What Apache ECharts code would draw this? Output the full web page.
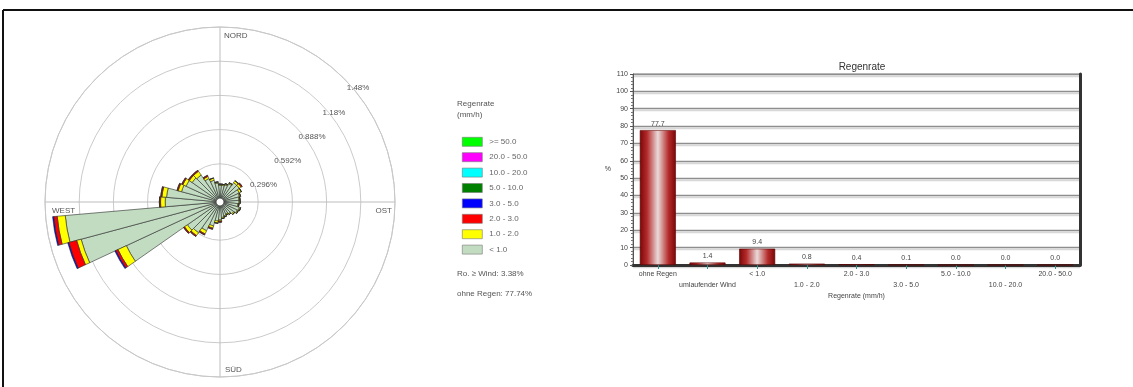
<!DOCTYPE html>
<html>
<head>
<meta charset="utf-8">
<script src="https://cdn.jsdelivr.net/npm/echarts@6/dist/echarts.min.js"></script>
<style>
  html, body { margin: 0; padding: 0; background: #fff; }
  #c { width: 1133px; height: 387px; }
</style>
</head>
<body>
<div id="c"></div>
<script>
// Wind direction sectors (degrees, clockwise from north), 10° each
const sectors = [0, 10, 20, 30, 40, 50, 60, 70, 80, 90, 100, 110, 120, 130, 140, 150, 160, 170,
                 180, 190, 200, 210, 220, 230, 240, 250, 260, 270, 280, 290, 300, 310, 320, 330, 340, 350];

// Frequency (%) per sector and rain-rate class
const lt1 = [0.11, 0.11, 0.12, 0.14, 0.17, 0.17, 0.15, 0.14, 0.13,
             0.13, 0.12, 0.14, 0.13, 0.11, 0.09, 0.08, 0.09, 0.10,
             0.12, 0.13, 0.18, 0.24, 0.29, 0.31, 0.86, 1.21, 1.31,
             0.44, 0.43, 0.31, 0.29, 0.26, 0.25, 0.19, 0.16, 0.13];
const c12 = [0.01, 0.01, 0.01, 0.01, 0.02, 0.02, 0.02, 0.01, 0.01,
             0.01, 0.01, 0.01, 0.01, 0.01, 0.01, 0.01, 0.01, 0.01,
             0.01, 0.02, 0.02, 0.03, 0.03, 0.03, 0.08, 0.04, 0.07,
             0.04, 0.04, 0.03, 0.03, 0.03, 0.04, 0.02, 0.02, 0.01];
const c23 = [0, 0, 0, 0, 0, 0.01, 0, 0, 0,
             0, 0, 0, 0, 0, 0, 0, 0, 0,
             0.01, 0, 0.01, 0.01, 0.01, 0.01, 0.02, 0.07, 0.03,
             0.01, 0.01, 0.01, 0.01, 0.01, 0.01, 0.01, 0, 0];
const c35 = [0, 0, 0, 0, 0, 0, 0, 0, 0,
             0, 0, 0, 0, 0, 0, 0, 0, 0,
             0, 0, 0, 0, 0, 0, 0.01, 0.01, 0.01,
             0, 0, 0, 0, 0, 0, 0, 0, 0];
const c510 = [];
const c1020 = [];
const c2050 = [];
const ge50 = [];

const rateClasses = ['>= 50.0', '20.0 - 50.0', '10.0 - 20.0', '5.0 - 10.0', '3.0 - 5.0', '2.0 - 3.0', '1.0 - 2.0', '< 1.0'];
const classColors = ['#00ff00', '#ff00ff', '#00ffff', '#008000', '#0000ff', '#ff0000', '#ffff00', '#c2dcc2'];
const classData = [ge50, c2050, c1020, c510, c35, c23, c12, lt1];

const ringValues = [0.296, 0.592, 0.888, 1.184, 1.48];
const ringLabels = ['0.296%', '0.592%', '0.888%', '1.18%', '1.48%'];
const compassLabels = ['NORD', 'OST', 'SÜD', 'WEST'];

// Rain-rate distribution
const barCats = ['ohne Regen', 'umlaufender Wind', '< 1.0', '1.0 - 2.0', '2.0 - 3.0', '3.0 - 5.0', '5.0 - 10.0', '10.0 - 20.0', '20.0 - 50.0'];
const barValues = [77.7, 1.4, 9.4, 0.8, 0.4, 0.1, 0.0, 0.0, 0.0];

const legendTitle = ['Regenrate', '(mm/h)'];
const summaryLines = ['Ro. \u2265 Wind: 3.38%', 'ohne Regen: 77.74%'];

const FONT = 'Liberation Sans, Arial, sans-serif';
const chart = echarts.init(document.getElementById('c'), null, { renderer: 'canvas' });

const CENTER = [220, 202];
const RADIUS = [4, 175];

// stacked rose: innermost class first
const roseSeries = [];
for (let i = rateClasses.length - 1; i >= 0; i--) {
  roseSeries.push({
    name: rateClasses[i],
    type: 'bar',
    coordinateSystem: 'polar',
    polarIndex: 0,
    stack: 'rose',
    barCategoryGap: '0%',
    data: classData[i],
    itemStyle: { color: classColors[i], borderColor: '#2a2a2a', borderWidth: 0.6 },
    silent: true,
    z: 3
  });
}

const barGradient = new echarts.graphic.LinearGradient(0, 0, 1, 0, [
  { offset: 0, color: '#7a0606' },
  { offset: 0.2, color: '#b42a2a' },
  { offset: 0.5, color: '#eadada' },
  { offset: 0.8, color: '#b42a2a' },
  { offset: 1, color: '#7a0606' }
]);

chart.setOption({
  animation: false,
  textStyle: { fontFamily: FONT },
  title: {
    text: 'Regenrate',
    left: 857, top: 57, textAlign: 'center',
    textStyle: { fontSize: 10, fontWeight: 'normal', color: '#333', fontFamily: FONT }
  },
  legend: {
    data: rateClasses,
    orient: 'vertical',
    left: 457, top: 132,
    itemWidth: 20, itemHeight: 9, itemGap: 5.8,
    icon: 'rect',
    selectedMode: false,
    itemStyle: { borderColor: '#777', borderWidth: 0.6 },
    textStyle: { fontSize: 8, color: '#666', fontFamily: FONT, padding: [0, 0, 0, 2] }
  },
  polar: [
    { center: CENTER, radius: RADIUS },
    { center: CENTER, radius: RADIUS }
  ],
  angleAxis: [
    {
      polarIndex: 0, type: 'category', data: sectors, startAngle: 95, clockwise: true,
      axisLine: { show: false }, axisTick: { show: false }, axisLabel: { show: false },
      splitLine: { show: false }
    },
    {
      polarIndex: 1, type: 'value', min: 0, max: 360, interval: 90, startAngle: 90, clockwise: true,
      axisLine: { show: true, lineStyle: { color: '#c8c8c8', width: 1 } },
      axisTick: { show: false }, axisLabel: { show: false },
      splitLine: { show: true, lineStyle: { color: '#bdbdbd', width: 1 } }
    }
  ],
  radiusAxis: [
    {
      polarIndex: 0, type: 'value', min: 0, max: 1.48,
      axisLine: { show: false }, axisTick: { show: false }, axisLabel: { show: false },
      splitLine: { show: false }
    },
    {
      polarIndex: 1, type: 'value', min: 0, max: 1.48, interval: 0.296,
      axisLine: { show: false }, axisTick: { show: false }, axisLabel: { show: false },
      splitLine: { show: true, lineStyle: { color: '#cacaca', width: 1 } }
    }
  ],
  grid: {
    left: 633, right: 53, top: 74, bottom: 122,
    show: true, borderColor: '#888', borderWidth: 1
  },
  xAxis: {
    type: 'category', data: barCats,
    name: 'Regenrate (mm/h)', nameLocation: 'middle', nameGap: 28,
    nameTextStyle: { fontSize: 7, color: '#444' },
    axisLine: { lineStyle: { color: '#333', width: 3 } },
    axisTick: { show: true, alignWithLabel: true, length: 4, lineStyle: { color: '#2f8f8f' } },
    axisLabel: {
      interval: 0, fontSize: 7, color: '#444', margin: 4, lineHeight: 11,
      formatter: (v, i) => (i % 2 === 1 ? '\n' + v : v)
    },
    splitLine: { show: false }
  },
  yAxis: [
    {
      type: 'value', min: 0, max: 110, interval: 10,
      name: '%', nameLocation: 'middle', nameGap: 22, nameRotate: 0,
      nameTextStyle: { fontSize: 7, color: '#444' },
      axisLine: { show: true, lineStyle: { color: '#555', width: 1 } },
      axisTick: { show: true, length: 3, lineStyle: { color: '#555' } },
      minorTick: { show: true, splitNumber: 5, length: 2, lineStyle: { color: '#777' } },
      axisLabel: { fontSize: 7, color: '#444', margin: 5 },
      splitLine: { show: true, lineStyle: { color: '#8e8e8e', width: 1.3, shadowColor: '#d8d8d8', shadowOffsetY: 2 } }
    },
    {
      type: 'value', min: 0, max: 110, interval: 10, position: 'right',
      axisLine: { show: true, lineStyle: { color: '#333', width: 3 } },
      axisTick: { show: false }, axisLabel: { show: false }, splitLine: { show: false }
    }
  ],
  series: roseSeries.concat([
    {
      name: 'Regenrate',
      type: 'bar',
      xAxisIndex: 0, yAxisIndex: 0,
      data: barValues,
      barWidth: 36,
      itemStyle: { color: barGradient, borderColor: '#5a0000', borderWidth: 0.6 },
      label: {
        show: true, position: 'top', distance: 3, fontSize: 7, color: '#444',
        formatter: p => p.value.toFixed(1)
      },
      z: 3
    }
  ])
});

// text placed relative to the polar grid
const pt = (r, a) => chart.convertToPixel({ polarIndex: 1 }, [r, a]);
const txt = (x, y, s, align, vAlign) => ({
  type: 'text', x: x, y: y, silent: true, z: 10,
  style: { text: s, fill: '#555', fontSize: 8, fontFamily: FONT, align: align, verticalAlign: vAlign }
});

const graphics = [
  { type: 'line', silent: true, shape: { x1: 3, y1: 10, x2: 1133, y2: 10 }, style: { stroke: '#111', lineWidth: 2 } },
  { type: 'line', silent: true, shape: { x1: 3, y1: 10, x2: 3, y2: 387 }, style: { stroke: '#111', lineWidth: 2 } }
];

ringValues.forEach((v, i) => {
  const p = pt(v, 45);
  graphics.push(txt(p[0] + 3, p[1] + 10, ringLabels[i], 'left', 'middle'));
});

const pN = pt(1.48, 0), pE = pt(1.48, 90), pS = pt(1.48, 180), pW = pt(1.48, 270);
graphics.push(txt(pN[0] + 4, pN[1] + 5, compassLabels[0], 'left', 'top'));
graphics.push(txt(pE[0] - 3, pE[1] + 5, compassLabels[1], 'right', 'top'));
graphics.push(txt(pS[0] + 5, pS[1] - 3, compassLabels[2], 'left', 'bottom'));
graphics.push(txt(pW[0] + 7, pW[1] + 5, compassLabels[3], 'left', 'top'));

graphics.push(txt(457, 104, legendTitle[0], 'left', 'middle'));
graphics.push(txt(457, 115, legendTitle[1], 'left', 'middle'));
graphics.push(txt(457, 274, summaryLines[0], 'left', 'middle'));
graphics.push(txt(457, 294, summaryLines[1], 'left', 'middle'));

chart.setOption({ graphic: graphics });
</script>
</body>
</html>
